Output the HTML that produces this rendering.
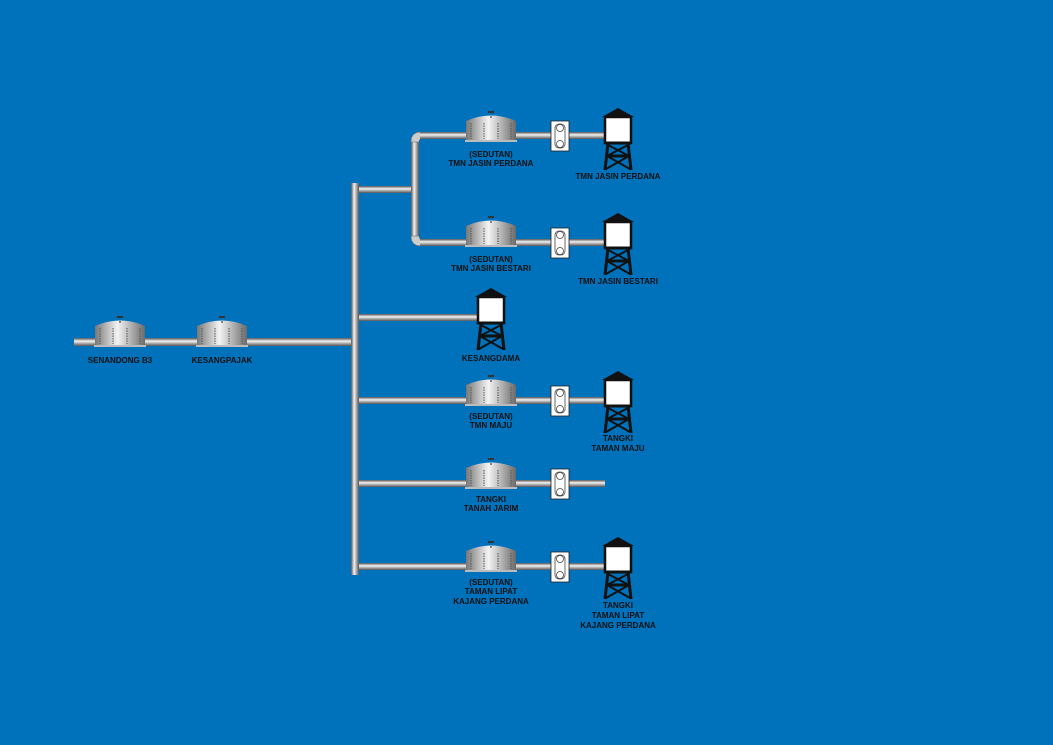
<!DOCTYPE html>
<html><head><meta charset="utf-8"><style>
html,body{margin:0;padding:0;background:#0071BB;}
svg{display:block}
text{font-family:"Liberation Sans",sans-serif;font-weight:bold;font-size:8px;fill:#111;text-anchor:middle;}
</style></head><body>
<svg width="1053" height="745" viewBox="0 0 1053 745" xmlns="http://www.w3.org/2000/svg">
<defs>
<linearGradient id="ph" x1="0" y1="0" x2="0" y2="1"><stop offset="0" stop-color="#555"/><stop offset="0.4" stop-color="#f2f2f2"/><stop offset="1" stop-color="#555"/></linearGradient>
<linearGradient id="pv" x1="0" y1="0" x2="1" y2="0"><stop offset="0" stop-color="#555"/><stop offset="0.4" stop-color="#f2f2f2"/><stop offset="1" stop-color="#555"/></linearGradient>
<linearGradient id="tk" x1="0" y1="0" x2="1" y2="0"><stop offset="0" stop-color="#777"/><stop offset="0.45" stop-color="#f4f4f4"/><stop offset="1" stop-color="#6a6a6a"/></linearGradient>
<g id="tank">
<path d="M-25,8 Q0,-3 25,8 Z" fill="url(#tk)"/>
<rect x="-25" y="8" width="50" height="20" fill="url(#tk)"/>
<rect x="-26" y="27" width="52" height="2" fill="#bbb"/>
<g stroke="#555" stroke-width="1" stroke-dasharray="1.5 1">
<line x1="-20" y1="10" x2="-20" y2="26"/><line x1="-7" y1="10" x2="-7" y2="26"/><line x1="7" y1="10" x2="7" y2="26"/><line x1="20" y1="10" x2="20" y2="26"/>
</g>
<rect x="-3" y="-2" width="6" height="2" fill="#333"/><circle cx="0" cy="4" r="1" fill="#666"/>
</g>
<g id="tower">
<polygon points="0,9 16,0 32,9" fill="#111"/>
<rect x="3" y="9" width="26" height="26" fill="#fff" stroke="#111" stroke-width="2.5"/>
<g stroke="#111" stroke-width="3" fill="none">
<line x1="6" y1="35" x2="3" y2="62"/><line x1="26" y1="35" x2="29" y2="62"/>
<line x1="5" y1="48" x2="27" y2="48"/>
<line x1="6" y1="37" x2="27" y2="48" stroke-width="2"/><line x1="26" y1="37" x2="5" y2="48" stroke-width="2"/>
<line x1="5" y1="48" x2="28" y2="61" stroke-width="2"/><line x1="27" y1="48" x2="4" y2="61" stroke-width="2"/>
<line x1="3" y1="35" x2="29" y2="35"/>
</g>
</g>
<g id="filter">
<rect x="0" y="0" width="18" height="30" fill="#fff" stroke="#222" stroke-width="0.8"/>
<rect x="4" y="3" width="10" height="24" rx="4" fill="none" stroke="#444" stroke-width="0.8"/>
<circle cx="9" cy="7" r="3.5" fill="#fff" stroke="#444" stroke-width="0.8"/>
<circle cx="9" cy="23" r="3.5" fill="#fff" stroke="#444" stroke-width="0.8"/>
</g>
</defs>

<!-- main horizontal -->
<rect x="74" y="338" width="282" height="8" fill="url(#ph)"/>
<!-- vertical main -->
<rect x="351" y="183" width="8" height="392" fill="url(#pv)"/>
<!-- branches -->
<rect x="359" y="186" width="56" height="7" fill="url(#ph)"/>
<rect x="359" y="314" width="120" height="7" fill="url(#ph)"/>
<rect x="359" y="397" width="246" height="7" fill="url(#ph)"/>
<rect x="359" y="480" width="246" height="7" fill="url(#ph)"/>
<rect x="359" y="563" width="246" height="7" fill="url(#ph)"/>
<!-- upper bend -->
<rect x="411" y="137" width="8" height="104" fill="url(#pv)"/>
<path d="M411,142 Q411,132 421,132 L421,139 Q419,139 419,142 Z" fill="#ccc" stroke="#666" stroke-width="0.5"/>
<path d="M411,236 Q411,246 421,246 L421,239 Q419,239 419,236 Z" fill="#ccc" stroke="#666" stroke-width="0.5"/>
<rect x="420" y="132" width="185" height="7" fill="url(#ph)"/>
<rect x="420" y="239" width="185" height="7" fill="url(#ph)"/>

<!-- tanks -->
<use href="#tank" x="120" y="318"/>
<use href="#tank" x="222" y="318"/>
<use href="#tank" x="491" y="113"/>
<use href="#tank" x="491" y="218"/>
<use href="#tank" x="491" y="377"/>
<use href="#tank" x="491" y="460"/>
<use href="#tank" x="491" y="543"/>

<!-- filters -->
<use href="#filter" x="551" y="121"/>
<use href="#filter" x="551" y="228"/>
<use href="#filter" x="551" y="386"/>
<use href="#filter" x="551" y="469"/>
<use href="#filter" x="551" y="552"/>

<!-- towers -->
<use href="#tower" x="602" y="108"/>
<use href="#tower" x="602" y="213"/>
<use href="#tower" x="475" y="288"/>
<use href="#tower" x="602" y="371"/>
<use href="#tower" x="602" y="537"/>

<!-- labels -->
<text x="120" y="363">SENANDONG B3</text>
<text x="222" y="363">KESANGPAJAK</text>
<text x="491" y="157">(SEDUTAN)</text>
<text x="491" y="166">TMN JASIN PERDANA</text>
<text x="618" y="179">TMN JASIN PERDANA</text>
<text x="491" y="262">(SEDUTAN)</text>
<text x="491" y="271">TMN JASIN BESTARI</text>
<text x="618" y="284">TMN JASIN BESTARI</text>
<text x="491" y="361">KESANGDAMA</text>
<text x="491" y="419">(SEDUTAN)</text>
<text x="491" y="428">TMN MAJU</text>
<text x="618" y="441">TANGKI</text>
<text x="618" y="451">TAMAN MAJU</text>
<text x="491" y="502">TANGKI</text>
<text x="491" y="511">TANAH JARIM</text>
<text x="491" y="585">(SEDUTAN)</text>
<text x="491" y="594">TAMAN LIPAT</text>
<text x="491" y="604">KAJANG PERDANA</text>
<text x="618" y="608">TANGKI</text>
<text x="618" y="618">TAMAN LIPAT</text>
<text x="618" y="628">KAJANG PERDANA</text>
</svg>
</body></html>
